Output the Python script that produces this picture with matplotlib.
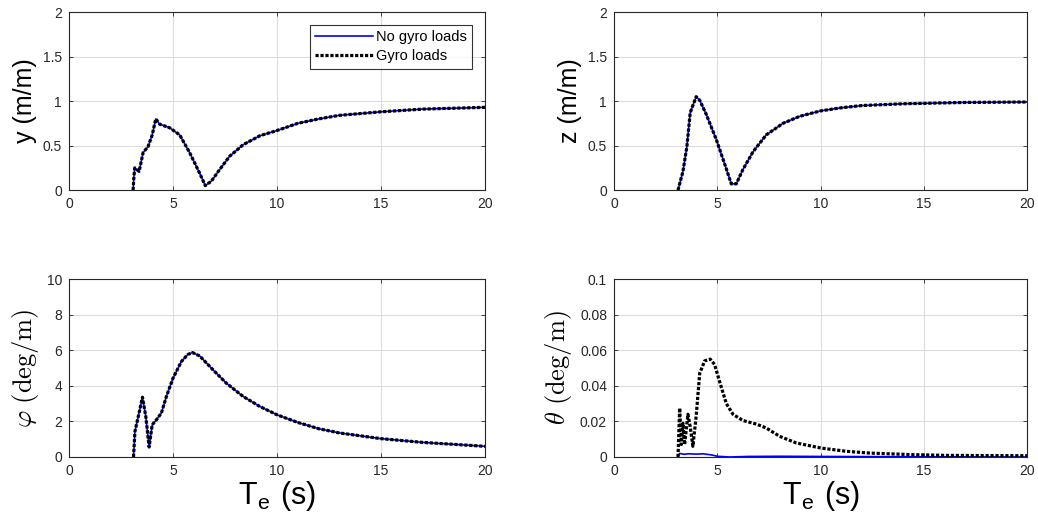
import numpy as np
import matplotlib
matplotlib.use("Agg")
import matplotlib.pyplot as plt

plt.rcParams['font.family'] = ['Liberation Sans', 'DejaVu Sans']
plt.rcParams['mathtext.fontset'] = 'cm'

# heave-like response y (m/m), both cases coincide
t_y = [3.08, 3.12, 3.16, 3.37, 3.56, 3.8, 4.0, 4.17, 4.36, 4.84, 5.32, 5.8, 6.28, 6.55,
       6.84, 7.24, 7.72, 8.37, 9.17, 10, 11, 12, 13, 15, 17, 20]
y_resp = [0.0, 0.15, 0.25, 0.21, 0.42, 0.49, 0.62, 0.80, 0.74, 0.70, 0.62, 0.42, 0.19, 0.05,
          0.10, 0.23, 0.38, 0.51, 0.61, 0.67, 0.75, 0.80, 0.84, 0.88, 0.91, 0.93]

# z (m/m)
t_z = [3.1, 3.34, 3.53, 3.69, 3.98, 4.15, 4.47, 4.95, 5.35, 5.68, 5.92, 6.24, 6.73, 7.37,
       8.18, 9.0, 10, 11, 12, 14, 17, 20]
z_resp = [0.0, 0.21, 0.49, 0.87, 1.05, 1.01, 0.85, 0.57, 0.30, 0.07, 0.07, 0.23, 0.43, 0.62,
          0.75, 0.83, 0.89, 0.925, 0.95, 0.97, 0.985, 0.99]

# phi (deg/m)
t_phi = [3.1, 3.17, 3.4, 3.53, 3.69, 3.85, 4.0, 4.2, 4.44, 4.68, 5.0, 5.4, 5.7, 5.93, 6.28,
         6.92, 7.56, 8.37, 9.17, 10, 11, 12, 13, 15, 17, 20]
phi_resp = [0.0, 1.44, 2.65, 3.36, 2.28, 0.56, 1.81, 2.09, 2.47, 3.40, 4.43, 5.36, 5.75, 5.87, 5.68,
            4.9, 4.15, 3.40, 2.84, 2.37, 1.94, 1.59, 1.35, 1.03, 0.82, 0.6]

# theta (deg/m), gyro loads
t_th = [3.1, 3.18, 3.26, 3.34, 3.42, 3.58, 3.69, 3.82, 3.98, 4.15, 4.39, 4.66, 4.87, 5.11,
        5.44, 5.76, 6.24, 6.89, 7.37, 8.02, 8.82, 10.03, 11.24, 12.37, 14.47, 16.1, 20]
th_gyro = [0.0, 0.0275, 0.007, 0.019, 0.007, 0.024, 0.017, 0.006, 0.023, 0.047, 0.054, 0.055,
           0.052, 0.0425, 0.030, 0.024, 0.0205, 0.0185, 0.0163, 0.0116, 0.0079, 0.005, 0.0032,
           0.0022, 0.0013, 0.0009, 0.0007]
# theta, no gyro loads
t_th0 = [3.1, 3.18, 3.4, 3.6, 4.0, 4.3, 4.7, 5.0, 5.6, 6.5, 8, 10, 15, 20]
th_nogyro = [0.0, 0.002, 0.0015, 0.0018, 0.0016, 0.0018, 0.0012, 0.0004, 0.0, 0.0003,
             0.0004, 0.0003, 0.0001, 0.0]

panels = [
    (t_y, y_resp, t_y, y_resp, 2, [0, 0.5, 1, 1.5, 2], 'y (m/m)', False),
    (t_z, z_resp, t_z, z_resp, 2, [0, 0.5, 1, 1.5, 2], 'z (m/m)', False),
    (t_phi, phi_resp, t_phi, phi_resp, 10, [0, 2, 4, 6, 8, 10], r'$\varphi\ \mathrm{(deg/m)}$', True),
    (t_th0, th_nogyro, t_th, th_gyro, 0.1, [0, 0.02, 0.04, 0.06, 0.08, 0.1], r'$\theta\ \mathrm{(deg/m)}$', True),
]
positions = [
    [0.0665, 0.640, 0.4008, 0.337],
    [0.5915, 0.640, 0.3980, 0.337],
    [0.0665, 0.1345, 0.4008, 0.337],
    [0.5915, 0.1345, 0.3980, 0.337],
]

fig = plt.figure(figsize=(10.38, 5.28), dpi=100)
edge = '#262626'
for i, (tb, vb, tk, vk, ymax, yt, lab, is_math) in enumerate(panels):
    ax = fig.add_axes(positions[i])
    ax.plot(tb, vb, color='#0000ff', lw=1.2, label='No gyro loads')
    ax.plot(tk, vk, color='black', lw=2.3, linestyle=(0, (1.0, 0.55)), label='Gyro loads')
    ax.set_xlim(0, 20)
    ax.set_ylim(0, ymax)
    ax.set_xticks([0, 5, 10, 15, 20])
    ax.set_yticks(yt)
    ax.set_yticklabels([('%g' % v) for v in yt])
    ax.grid(True, color='#dcdcdc', lw=0.8)
    ax.set_axisbelow(True)
    ax.tick_params(direction='in', length=3, width=0.6, top=True, right=True,
                   labelsize=10, colors=edge, pad=5)
    for s in ax.spines.values():
        s.set_color(edge)
        s.set_linewidth(0.8)
    if is_math:
        ax.set_ylabel(lab, fontsize=19, labelpad=4)
    else:
        ax.set_ylabel(lab, fontsize=18, labelpad=4)
    if i >= 2:
        ax.set_xlabel(r'T$_\mathregular{e}$ (s)', fontsize=22, labelpad=1)
    if i == 0:
        leg = ax.legend(loc='upper right', fontsize=10.5, frameon=True, fancybox=False,
                        handlelength=4.0, handletextpad=0.2, borderpad=0.35,
                        labelspacing=0.35, borderaxespad=0.9)
        leg.get_frame().set_edgecolor('black')
        leg.get_frame().set_linewidth(0.8)

fig.savefig('out.png', dpi=100)
